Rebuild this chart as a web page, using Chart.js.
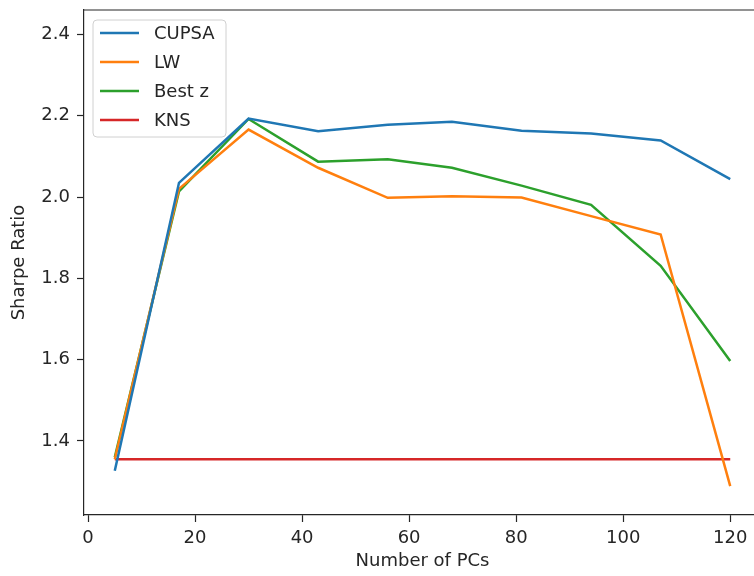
<!DOCTYPE html>
<html>
<head>
<meta charset="utf-8">
<script src="https://cdn.jsdelivr.net/npm/chart.js@4"></script>
<style>
  html, body { margin: 0; padding: 0; background: #fff; overflow: hidden; }
  #wrap { width: 770px; height: 576px; }
</style>
</head>
<body>
<div id="wrap"><canvas id="chart" width="770" height="576"></canvas></div>
<script>
// Data
const numPCs = [5, 17, 30, 43, 56, 68, 81, 94, 107, 120];
const cupsa = [1.327, 2.035, 2.193, 2.162, 2.178, 2.185, 2.163, 2.156, 2.139, 2.044];
const lw    = [1.355, 2.020, 2.166, 2.072, 1.998, 2.002, 1.999, 1.953, 1.908, 1.289];
const bestZ = [1.360, 2.014, 2.192, 2.087, 2.093, 2.072, 2.028, 1.981, 1.831, 1.597];
const kns   = [1.355, 1.355, 1.355, 1.355, 1.355, 1.355, 1.355, 1.355, 1.355, 1.355];

const xTicks = [0, 20, 40, 60, 80, 100, 120];
const yTicks = [1.4, 1.6, 1.8, 2.0, 2.2, 2.4];

const FONT = "'DejaVu Sans', sans-serif";
const INK = "#262626";

function toPoints(ys) {
    return numPCs.map((x, i) => ({ x: x, y: ys[i] }));
}

function series(label, ys, color) {
    return {
        label: label,
        data: toPoints(ys),
        borderColor: color,
        backgroundColor: color,
        borderWidth: 2.5,
        pointRadius: 0,
        tension: 0,
        fill: false,
    };
}

// top/right spines plus a matplotlib style legend box
const framePlugin = {
    id: "frame",
    afterDraw(chart) {
        const ctx = chart.ctx;
        const a = chart.chartArea;
        ctx.save();
        ctx.strokeStyle = INK;
        ctx.lineWidth = 1.2;
        ctx.beginPath();
        ctx.moveTo(a.left, a.top);
        ctx.lineTo(a.right, a.top);
        ctx.lineTo(a.right, a.bottom);
        ctx.stroke();

        // legend
        const bx = 93, by = 20, bw = 133, bh = 117, r = 4;
        ctx.beginPath();
        ctx.moveTo(bx + r, by);
        ctx.arcTo(bx + bw, by, bx + bw, by + bh, r);
        ctx.arcTo(bx + bw, by + bh, bx, by + bh, r);
        ctx.arcTo(bx, by + bh, bx, by, r);
        ctx.arcTo(bx, by, bx + bw, by, r);
        ctx.closePath();
        ctx.fillStyle = "rgba(255,255,255,0.8)";
        ctx.fill();
        ctx.strokeStyle = "#d0d0d0";
        ctx.lineWidth = 1;
        ctx.stroke();

        ctx.font = "18px " + FONT;
        ctx.textBaseline = "middle";
        ctx.textAlign = "left";
        chart.data.datasets.forEach((ds, i) => {
            const y = 33 + i * 29;
            ctx.strokeStyle = ds.borderColor;
            ctx.lineWidth = 2.5;
            ctx.beginPath();
            ctx.moveTo(100, y);
            ctx.lineTo(139, y);
            ctx.stroke();
            ctx.fillStyle = INK;
            ctx.fillText(ds.label, 154, y + 1);
        });
        ctx.restore();
    }
};

new Chart(document.getElementById("chart"), {
    type: "line",
    data: {
        datasets: [
            series("CUPSA", cupsa, "#1f77b4"),
            series("LW", lw, "#ff7f0e"),
            series("Best z", bestZ, "#2ca02c"),
            series("KNS", kns, "#d62728"),
        ],
    },
    options: {
        responsive: false,
        animation: false,
        layout: { padding: { top: 10, right: 9, left: 0, bottom: 0 } },
        plugins: {
            legend: { display: false },
            tooltip: { enabled: false },
        },
        scales: {
            x: {
                type: "linear",
                min: -0.75,
                max: 125.75,
                afterBuildTicks: (s) => { s.ticks = xTicks.map(v => ({ value: v })); },
                afterFit: (s) => {
                    s.height = 61;
                    s.paddingLeft = 0; s.paddingRight = 0;
                },
                grid: { drawOnChartArea: false, drawTicks: true, tickLength: 7, tickColor: INK, tickWidth: 1.2 },
                border: { display: true, color: INK, width: 1.2 },
                ticks: { color: INK, font: { family: FONT, size: 18 }, padding: 6, maxRotation: 0 },
                title: {
                    display: true,
                    text: "Number of PCs",
                    color: INK,
                    font: { family: FONT, size: 18 },
                    padding: { top: 4, bottom: 4 },
                },
            },
            y: {
                type: "linear",
                min: 1.218,
                max: 2.46,
                afterBuildTicks: (s) => { s.ticks = yTicks.map(v => ({ value: v })); },
                afterFit: (s) => {
                    s.width = 84;
                    s.paddingTop = 0; s.paddingBottom = 0;
                },
                grid: { drawOnChartArea: false, drawTicks: true, tickLength: 7, tickColor: INK, tickWidth: 1.2 },
                border: { display: true, color: INK, width: 1.2 },
                ticks: {
                    color: INK,
                    font: { family: FONT, size: 18 },
                    padding: 7,
                    callback: (v) => Number(v).toFixed(1),
                },
                title: {
                    display: true,
                    text: "Sharpe Ratio",
                    color: INK,
                    font: { family: FONT, size: 18 },
                    padding: { top: 9, bottom: 9 },
                },
            },
        },
    },
    plugins: [framePlugin],
});
</script>
</body>
</html>
